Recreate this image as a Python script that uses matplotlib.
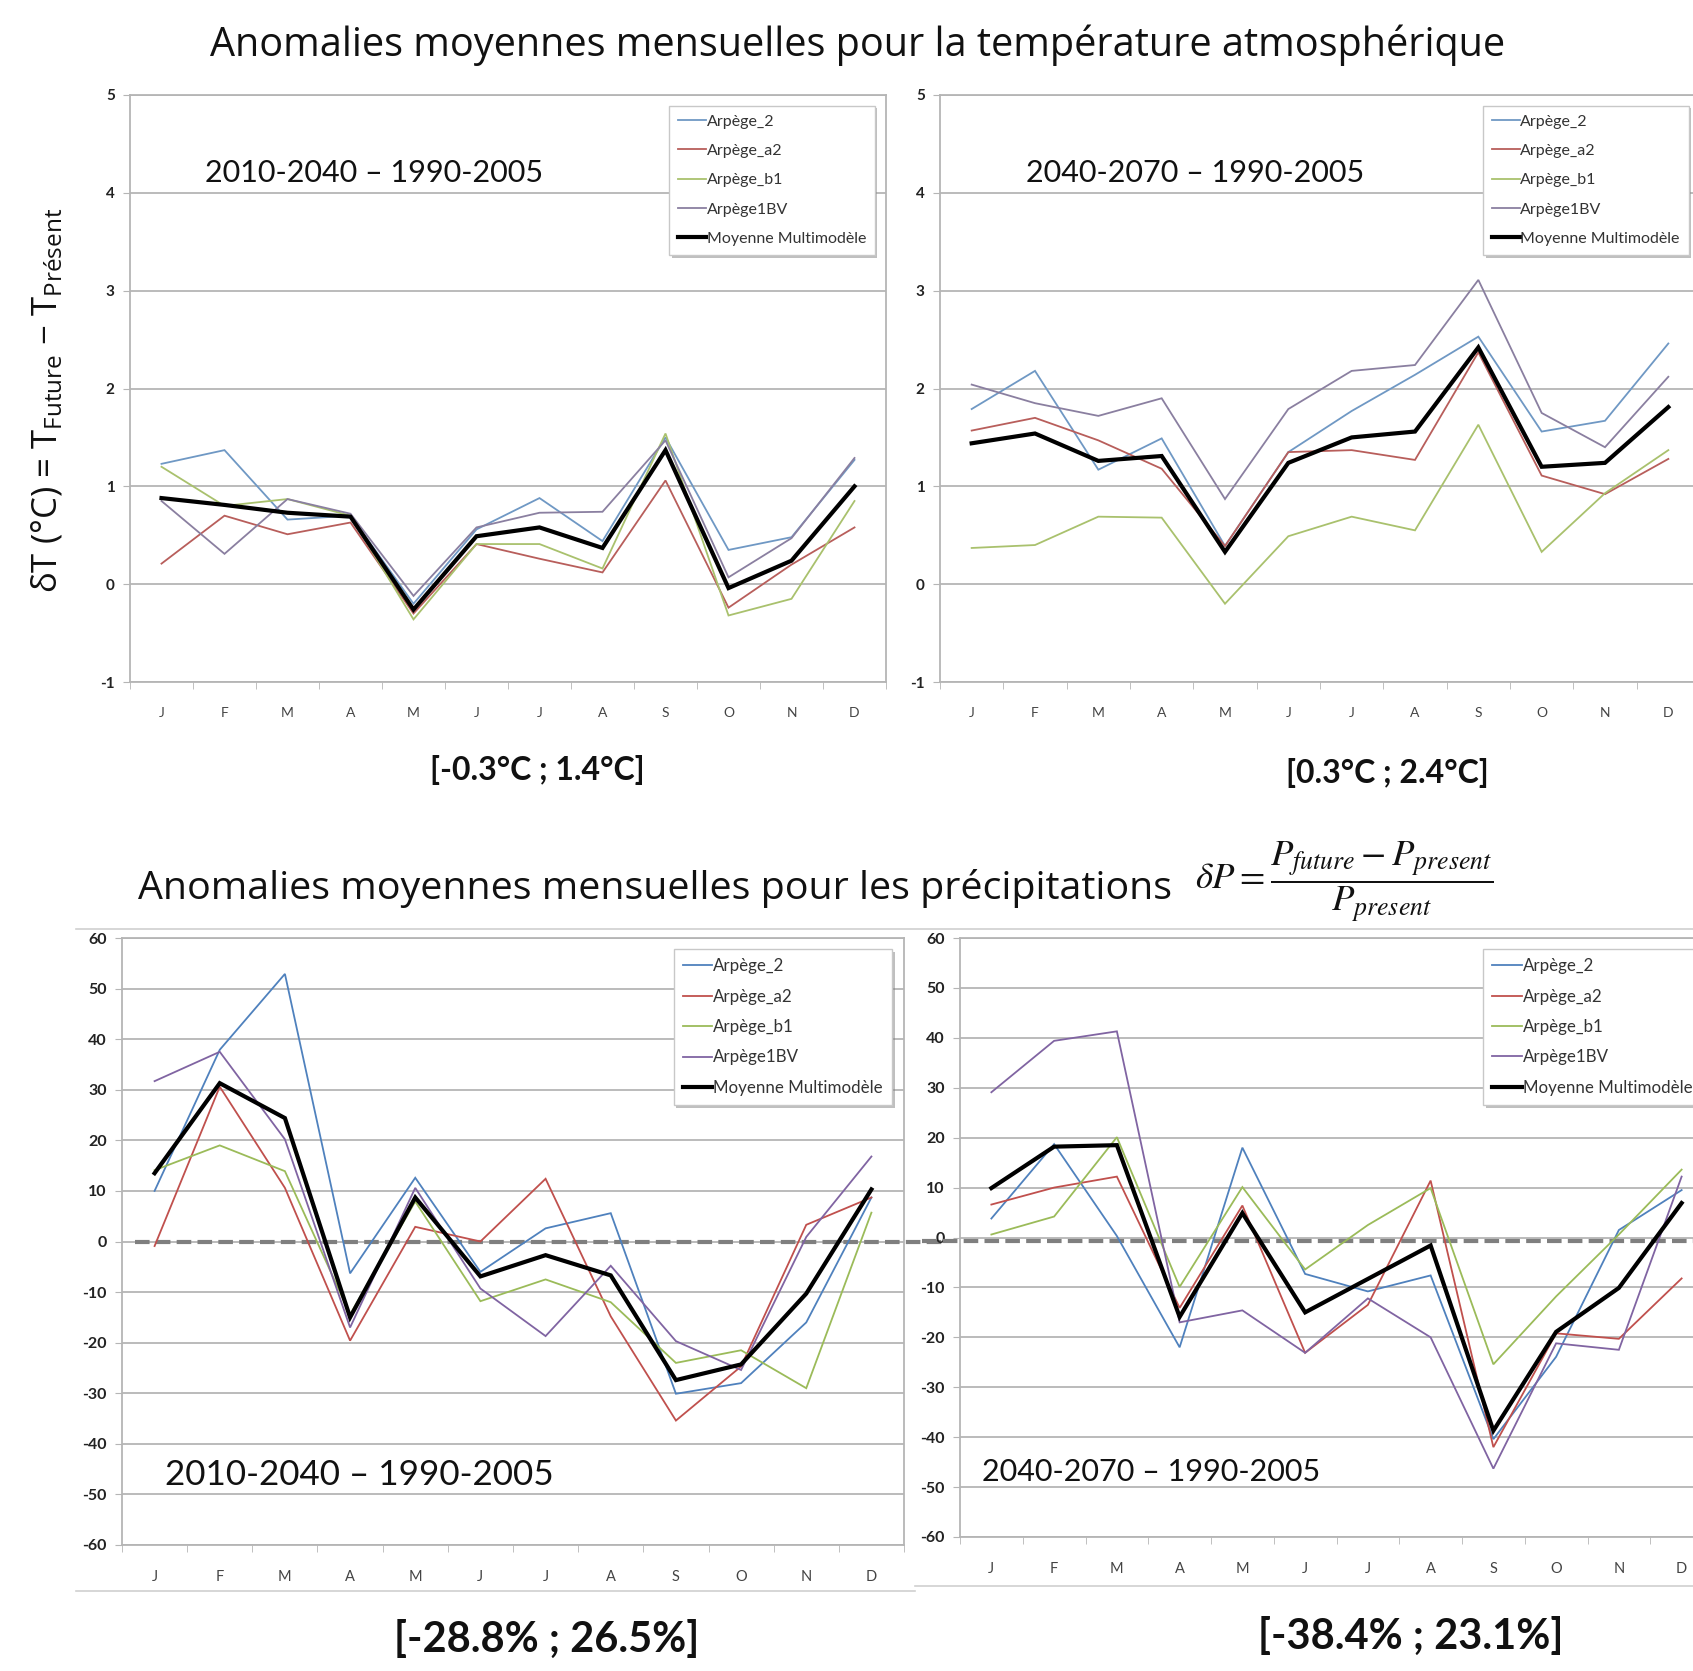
import matplotlib
matplotlib.use("Agg")
import matplotlib.pyplot as plt
from matplotlib.lines import Line2D
import numpy as np

# ---------------- data ----------------
months = ["J", "F", "M", "A", "M", "J", "J", "A", "S", "O", "N", "D"]
series_names = ["Arpège_2", "Arpège_a2", "Arpège_b1", "Arpège1BV", "Moyenne Multimodèle"]

# Temperature anomalies 2010-2040 vs 1990-2005 (°C)
t1_arp2 = [1.23, 1.37, 0.66, 0.70, -0.20, 0.56, 0.88, 0.44, 1.50, 0.35, 0.48, 1.27]
t1_a2 = [0.21, 0.70, 0.51, 0.63, -0.30, 0.41, 0.26, 0.12, 1.06, -0.24, 0.20, 0.58]
t1_b1 = [1.20, 0.80, 0.87, 0.70, -0.36, 0.41, 0.41, 0.16, 1.54, -0.32, -0.15, 0.85]
t1_1bv = [0.85, 0.31, 0.87, 0.72, -0.12, 0.58, 0.73, 0.74, 1.47, 0.07, 0.47, 1.29]
t1_mean = [0.88, 0.81, 0.73, 0.69, -0.26, 0.49, 0.58, 0.37, 1.37, -0.04, 0.24, 1.00]

# Temperature anomalies 2040-2070 vs 1990-2005 (°C)
t2_arp2 = [1.79, 2.18, 1.17, 1.49, 0.39, 1.35, 1.77, 2.14, 2.53, 1.56, 1.67, 2.46]
t2_a2 = [1.57, 1.70, 1.47, 1.18, 0.39, 1.35, 1.37, 1.27, 2.37, 1.11, 0.92, 1.28]
t2_b1 = [0.37, 0.40, 0.69, 0.68, -0.20, 0.49, 0.69, 0.55, 1.63, 0.33, 0.93, 1.37]
t2_1bv = [2.04, 1.85, 1.72, 1.90, 0.87, 1.79, 2.18, 2.24, 3.11, 1.75, 1.40, 2.12]
t2_mean = [1.44, 1.54, 1.26, 1.31, 0.33, 1.24, 1.50, 1.56, 2.42, 1.20, 1.24, 1.81]

# Precipitation anomalies 2010-2040 vs 1990-2005 (%)
p1_arp2 = [10.0, 37.9, 52.9, -6.3, 12.6, -6.0, 2.6, 5.6, -30.1, -28.0, -16.0, 8.7]
p1_a2 = [-0.9, 30.6, 10.6, -19.6, 2.9, 0.0, 12.4, -14.8, -35.4, -24.7, 3.3, 8.7]
p1_b1 = [14.1, 19.0, 13.9, -14.4, 7.9, -11.8, -7.5, -12.0, -24.0, -21.5, -29.0, 5.7]
p1_1bv = [31.7, 37.5, 20.2, -17.0, 10.6, -9.3, -18.7, -4.8, -19.7, -25.4, 0.9, 16.8]
p1_mean = [13.5, 31.3, 24.4, -15.0, 8.7, -6.9, -2.7, -6.7, -27.4, -24.3, -10.3, 10.3]

# Precipitation anomalies 2040-2070 vs 1990-2005 (%)
p2_arp2 = [3.8, 18.7, 0.3, -22.0, 18.0, -7.3, -10.8, -7.6, -40.4, -23.9, 1.5, 9.5]
p2_a2 = [6.6, 10.0, 12.2, -14.1, 6.4, -23.1, -13.5, 11.4, -42.0, -19.2, -20.3, -8.2]
p2_b1 = [0.6, 4.2, 20.1, -9.9, 10.1, -6.4, 2.5, 9.9, -25.4, -11.8, 0.6, 13.6]
p2_1bv = [29.1, 39.4, 41.3, -17.0, -14.6, -23.1, -12.2, -20.0, -46.3, -21.2, -22.5, 12.2]
p2_mean = [9.9, 18.2, 18.5, -15.9, 4.9, -15.0, -8.3, -1.6, -38.7, -18.9, -10.1, 6.9]

temp_ticks = [-1, 0, 1, 2, 3, 4, 5]
prec_ticks = [-60, -50, -40, -30, -20, -10, 0, 10, 20, 30, 40, 50, 60]

# ---------------- styling ----------------
W, H = 1693, 1671
fig = plt.figure(figsize=(W / 100, H / 100), dpi=100)
fig.patch.set_facecolor("white")

colors_top = ["#6f98c4", "#b85e5b", "#a9c16d", "#8a7fa0", "#000000"]
colors_bot = ["#4f81bd", "#c0504d", "#9bbb59", "#8064a2", "#000000"]
lws = [1.3, 1.3, 1.3, 1.3, 3.0]
TICKFONT = "Lato"
GRID = "#b5b5b5"


def fpos(left_px, right_px, top_px, bottom_px):
    return [left_px / W, 1 - bottom_px / H, (right_px - left_px) / W, (bottom_px - top_px) / H]


def make_panel(rect, data, colors, yticks, tick_fs, legend_fs, legend_spacing):
    ax = fig.add_axes(rect)
    x = np.arange(len(months))
    for vals, c, lw, name in zip(data, colors, lws, series_names):
        ax.plot(x, vals, color=c, lw=lw, label=name, solid_joinstyle="miter", zorder=3)
    ax.set_xlim(-0.5, len(months) - 0.5)
    ax.set_ylim(yticks[0], yticks[-1])
    ax.set_yticks(yticks)
    ax.set_yticklabels([str(v) for v in yticks], fontfamily=TICKFONT, fontweight="bold",
                       fontsize=tick_fs, color="#222222")
    ax.set_xticks(x)
    ax.set_xticklabels(months, fontfamily=TICKFONT, fontsize=tick_fs - 1, color="#444444")
    ax.set_xticks(np.arange(-0.5, len(months) + 0.5, 1), minor=True)
    ax.tick_params(axis="x", which="major", length=0, pad=18)
    ax.tick_params(axis="x", which="minor", length=5, color=GRID, direction="out")
    ax.tick_params(axis="y", which="major", length=5, color=GRID, direction="out", pad=6)
    ax.grid(axis="y", color=GRID, lw=1.3, zorder=0)
    ax.set_axisbelow(True)
    for s in ax.spines.values():
        s.set_color(GRID)
        s.set_linewidth(1.3)
    leg = ax.legend(loc="upper right", bbox_to_anchor=(0.985, 0.982),
                    prop={"family": TICKFONT, "size": legend_fs},
                    frameon=True, fancybox=False, framealpha=1, edgecolor="#c8c8c8",
                    handlelength=1.75, handletextpad=0.05, labelspacing=legend_spacing,
                    borderpad=0.55, borderaxespad=0,
                    shadow={"facecolor": "0.45", "edgecolor": "none", "alpha": 0.45})
    for t in leg.get_texts():
        t.set_color("#333333")
    leg.get_frame().set_linewidth(1.0)
    return ax


# top panels
ax1 = make_panel(fpos(130, 886, 95, 682), [t1_arp2, t1_a2, t1_b1, t1_1bv, t1_mean],
                 colors_top, temp_ticks, 11, 11.5, 0.95)
ax2 = make_panel(fpos(940, 1700, 95, 682), [t2_arp2, t2_a2, t2_b1, t2_1bv, t2_mean],
                 colors_top, temp_ticks, 11, 11.5, 0.95)

# bottom panels
ax3 = make_panel(fpos(122, 904, 938, 1545), [p1_arp2, p1_a2, p1_b1, p1_1bv, p1_mean],
                 colors_bot, prec_ticks, 11.5, 12.2, 0.85)
ax4 = make_panel(fpos(960, 1713, 938, 1537), [p2_arp2, p2_a2, p2_b1, p2_1bv, p2_mean],
                 colors_bot, prec_ticks, 11.5, 12.2, 0.85)

# dashed zero reference line across both precipitation panels
ax3.axhline(0, xmin=0.016, xmax=1.05, color="#7f7f7f", lw=3, ls=(0, (3.5, 1.5)),
            zorder=2, clip_on=False)
ax4.axhline(-0.8, xmin=-0.05, xmax=1.0, color="#7f7f7f", lw=3, ls=(0, (3.5, 1.5)),
            zorder=2, clip_on=False)

# chart-area borders (light)
for (x0, x1, y0, y1) in [(76, 1693, 929, 929), (76, 915, 1591, 1591), (915, 1693, 1586, 1586)]:
    fig.add_artist(Line2D([x0 / W, x1 / W], [1 - y0 / H, 1 - y1 / H], color="#d0d0d0", lw=1.2))

# ---------------- texts ----------------
TITLEFONT = "Open Sans"
fig.text(858 / W, 1 - 45 / H, "Anomalies moyennes mensuelles pour la température atmosphérique",
         ha="center", va="center", fontsize=28.5, fontfamily=TITLEFONT, color="#111111")
fig.text(138 / W, 1 - 889 / H, "Anomalies moyennes mensuelles pour les précipitations",
         ha="left", va="center", fontsize=28.4, fontfamily=TITLEFONT, color="#111111")

plt.rcParams["mathtext.fontset"] = "custom"
plt.rcParams["mathtext.rm"] = TITLEFONT
plt.rcParams["mathtext.it"] = TITLEFONT + ":italic"
fig.text(48 / W, 1 - 400 / H,
         r"δT (°C) = T$_{\mathrm{Future}}$ − T$_{\mathrm{Présent}}$",
         rotation=90, ha="center", va="center", fontsize=25, fontfamily=TITLEFONT, color="#111111")

fig.text(1344 / W, 1 - 882 / H,
         r"$\delta P = \dfrac{P_{future} - P_{present}}{P_{present}}$",
         ha="center", va="center", fontsize=26.5, math_fontfamily="stix", color="#111111")

ANNFONT = "Lato"
fig.text(205 / W, 1 - 173 / H, "2010-2040 – 1990-2005", ha="left", va="center",
         fontsize=22, fontfamily=ANNFONT, color="#111111")
fig.text(1026 / W, 1 - 173 / H, "2040-2070 – 1990-2005", ha="left", va="center",
         fontsize=22, fontfamily=ANNFONT, color="#111111")
fig.text(165 / W, 1 - 1475 / H, "2010-2040 – 1990-2005", ha="left", va="center",
         fontsize=25.2, fontfamily=ANNFONT, color="#111111")
fig.text(982 / W, 1 - 1472 / H, "2040-2070 – 1990-2005", ha="left", va="center",
         fontsize=22, fontfamily=ANNFONT, color="#111111")

fig.text(537 / W, 1 - 770 / H, "[-0.3°C ; 1.4°C]", ha="center", va="center",
         fontsize=23, fontweight="bold", fontfamily=ANNFONT, color="#111111")
fig.text(1387 / W, 1 - 773 / H, "[0.3°C ; 2.4°C]", ha="center", va="center",
         fontsize=23, fontweight="bold", fontfamily=ANNFONT, color="#111111")
fig.text(547 / W, 1 - 1639 / H, "[-28.8% ; 26.5%]", ha="center", va="center",
         fontsize=30, fontweight="bold", fontfamily=ANNFONT, color="#111111")
fig.text(1411 / W, 1 - 1636 / H, "[-38.4% ; 23.1%]", ha="center", va="center",
         fontsize=30, fontweight="bold", fontfamily=ANNFONT, color="#111111")

fig.savefig("out.png", dpi=100, facecolor="white")
